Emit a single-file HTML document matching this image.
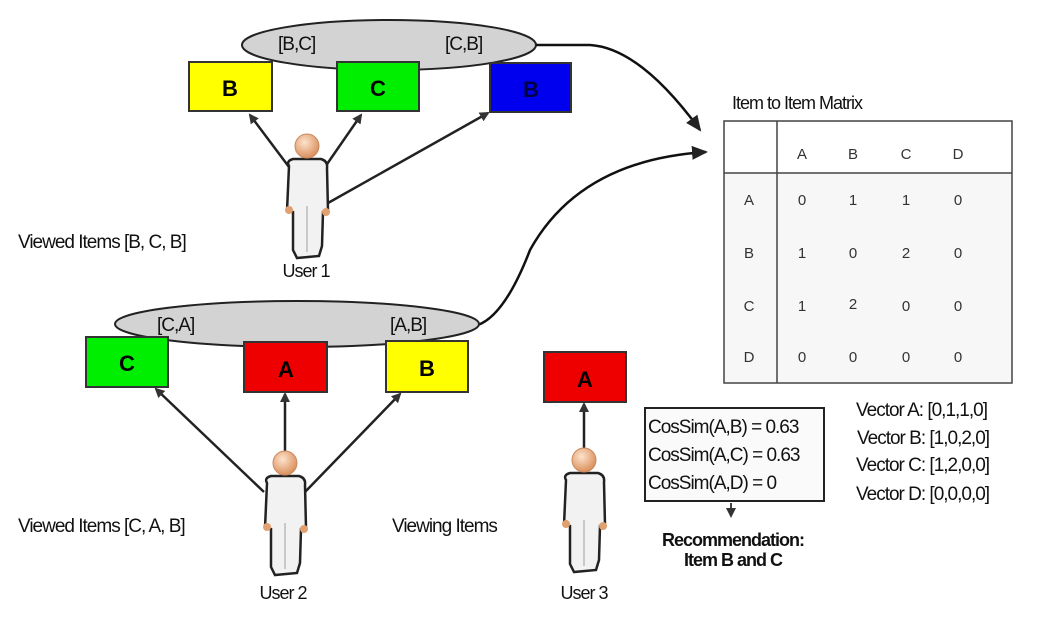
<!DOCTYPE html>
<html><head><meta charset="utf-8"><style>
html,body{margin:0;padding:0;background:#fff;}
svg{display:block;font-family:"Liberation Sans",sans-serif;}
.t{font-size:19px;letter-spacing:-1px;fill:#111;}
</style></head><body>
<svg width="1050" height="625" viewBox="0 0 1050 625" xmlns="http://www.w3.org/2000/svg">
<defs>
<marker id="ah" markerWidth="10" markerHeight="10" refX="8" refY="5" orient="auto" markerUnits="userSpaceOnUse"><path d="M0,0 L10,5 L0,10 z" fill="#333"/></marker>
<marker id="ah2" markerWidth="16" markerHeight="14" refX="14" refY="7" orient="auto" markerUnits="userSpaceOnUse"><path d="M0,0 L16,7 L0,14 z" fill="#222"/></marker>
<radialGradient id="hd" cx="0.4" cy="0.35" r="0.7"><stop offset="0" stop-color="#fde3cc"/><stop offset="1" stop-color="#d98a55"/></radialGradient>
<g id="person">
<path d="M-18,20 Q-21,15 -14,13 L14,13 Q21,15 20,22 L21,65 L16,66 L15,100 L12,110 L-10,112 L-14,104 L-14,66 L-20,65 Z" fill="#f2f2f2" stroke="#222" stroke-width="2.5"/>
<line x1="0" y1="60" x2="0" y2="106" stroke="#bbb" stroke-width="1.5"/>
<circle cx="-18" cy="64" r="4" fill="#e0a070"/><circle cx="19" cy="66" r="4" fill="#e0a070"/>
<circle cx="0" cy="0" r="12" fill="url(#hd)" stroke="#c98a60" stroke-width="1"/>
</g>
</defs>

<ellipse cx="389" cy="45" rx="147" ry="25" fill="#d3d3d3" stroke="#222" stroke-width="2"/>
<text x="278" y="50" class="t">[B,C]</text>
<text x="445" y="50" class="t">[C,B]</text>
<rect x="189" y="62" width="83" height="49" fill="#ffff00" stroke="#333" stroke-width="2"/>
<rect x="337" y="62" width="82" height="49" fill="#00ee00" stroke="#333" stroke-width="2"/>
<rect x="490" y="63" width="81" height="49" fill="#0000ee" stroke="#333" stroke-width="2"/>
<text x="230" y="96" font-size="22" font-weight="bold" text-anchor="middle">B</text>
<text x="378" y="96" font-size="22" font-weight="bold" text-anchor="middle">C</text>
<text x="531" y="97" font-size="22" font-weight="bold" text-anchor="middle" fill="#000044">B</text>
<g stroke="#222" stroke-width="2.5" fill="none">
<line x1="289" y1="167" x2="250" y2="115" marker-end="url(#ah)"/>
<line x1="325" y1="167" x2="361" y2="115" marker-end="url(#ah)"/>
<line x1="328" y1="203" x2="488" y2="113" marker-end="url(#ah)"/>
</g>
<use href="#person" x="307" y="146"/>
<text x="306" y="277" class="t" text-anchor="middle" style="font-size:18px">User 1</text>
<text x="18" y="248" class="t">Viewed Items [B, C, B]</text>

<path d="M536,45 L590,45 Q640,48 700,130" stroke="#111" stroke-width="2.5" fill="none" marker-end="url(#ah2)"/>
<path d="M478,325 Q505,315 530,250 Q580,160 706,152" stroke="#111" stroke-width="2.5" fill="none" marker-end="url(#ah2)"/>

<ellipse cx="297" cy="324" rx="182" ry="23" fill="#d3d3d3" stroke="#222" stroke-width="2"/>
<text x="157" y="331" class="t">[C,A]</text>
<text x="390" y="331" class="t">[A,B]</text>
<rect x="86" y="337" width="82" height="50" fill="#00ee00" stroke="#333" stroke-width="2"/>
<rect x="244" y="342" width="83" height="50" fill="#ee0000" stroke="#333" stroke-width="2"/>
<rect x="386" y="341" width="82" height="51" fill="#ffff00" stroke="#333" stroke-width="2"/>
<rect x="544" y="352" width="82" height="50" fill="#ee0000" stroke="#333" stroke-width="2"/>
<text x="127" y="371" font-size="22" font-weight="bold" text-anchor="middle">C</text>
<text x="286" y="377" font-size="22" font-weight="bold" text-anchor="middle">A</text>
<text x="427" y="376" font-size="22" font-weight="bold" text-anchor="middle">B</text>
<text x="585" y="387" font-size="22" font-weight="bold" text-anchor="middle">A</text>
<g stroke="#222" stroke-width="2.5" fill="none">
<line x1="264" y1="492" x2="156" y2="389" marker-end="url(#ah)"/>
<line x1="285" y1="453" x2="285" y2="394" marker-end="url(#ah)"/>
<line x1="305" y1="492" x2="400" y2="394" marker-end="url(#ah)"/>
<line x1="584" y1="449" x2="584" y2="404" marker-end="url(#ah)"/>
</g>
<use href="#person" x="285" y="463"/>
<use href="#person" x="584" y="460"/>
<text x="283" y="599" class="t" text-anchor="middle" style="font-size:18px">User 2</text>
<text x="584" y="599" class="t" text-anchor="middle" style="font-size:18px">User 3</text>
<text x="18" y="532" class="t">Viewed Items [C, A, B]</text>
<text x="392" y="532" class="t">Viewing Items</text>

<text x="732" y="109" class="t" style="font-size:18px">Item to Item Matrix</text>
<rect x="724" y="121" width="288" height="262" fill="#f7f7f7" stroke="#444" stroke-width="1.5"/>
<rect x="725" y="122" width="286" height="51" fill="#fff"/>
<line x1="724" y1="173" x2="1012" y2="173" stroke="#444" stroke-width="1.5"/>
<line x1="777" y1="121" x2="777" y2="383" stroke="#444" stroke-width="1.5"/>
<g font-size="15" fill="#333" text-anchor="middle">
<text x="802" y="159">A</text><text x="853" y="159">B</text><text x="906" y="159">C</text><text x="958" y="159">D</text>
<text x="749" y="205">A</text><text x="802" y="205">0</text><text x="853" y="205">1</text><text x="906" y="205">1</text><text x="958" y="205">0</text>
<text x="749" y="258">B</text><text x="802" y="258">1</text><text x="853" y="258">0</text><text x="906" y="258">2</text><text x="958" y="258">0</text>
<text x="749" y="311">C</text><text x="802" y="311">1</text><text x="853" y="309">2</text><text x="906" y="311">0</text><text x="958" y="311">0</text>
<text x="749" y="362">D</text><text x="802" y="362">0</text><text x="853" y="362">0</text><text x="906" y="362">0</text><text x="958" y="362">0</text>
</g>

<rect x="645" y="408" width="179" height="93" fill="#fafafa" stroke="#222" stroke-width="2"/>
<text x="648" y="433" class="t">CosSim(A,B) = 0.63</text>
<text x="648" y="461" class="t">CosSim(A,C) = 0.63</text>
<text x="648" y="489" class="t">CosSim(A,D) = 0</text>
<line x1="731" y1="503" x2="731" y2="516" stroke="#444" stroke-width="2" marker-end="url(#ah)"/>
<text x="733" y="546" class="t" text-anchor="middle" style="font-size:18px;font-weight:bold;letter-spacing:-1px">Recommendation:</text>
<text x="733" y="566" class="t" text-anchor="middle" style="font-size:18px;font-weight:bold;letter-spacing:-1px">Item B and C</text>

<text x="856" y="416" class="t">Vector A: [0,1,1,0]</text>
<text x="857" y="444" class="t">Vector B: [1,0,2,0]</text>
<text x="856" y="471" class="t">Vector C: [1,2,0,0]</text>
<text x="856" y="500" class="t">Vector D: [0,0,0,0]</text>
</svg>
</body></html>
